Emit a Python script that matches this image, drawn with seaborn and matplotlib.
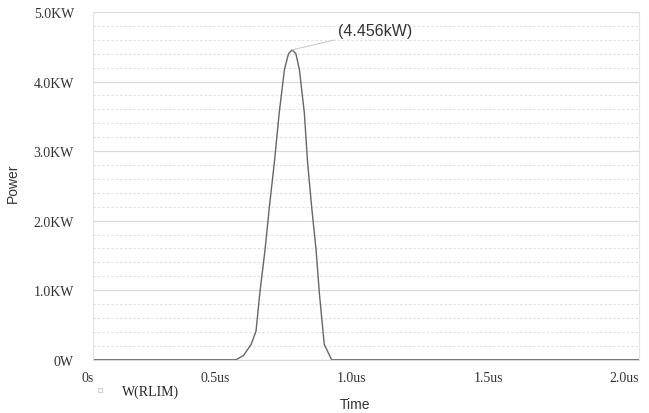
import matplotlib
matplotlib.use("Agg")
import matplotlib.pyplot as plt
import seaborn as sns
from matplotlib.lines import Line2D
from matplotlib.ticker import MultipleLocator

# Data (time in us, power in kW)
time_us = [0.0, 0.523, 0.55, 0.578, 0.596, 0.61, 0.629, 0.645, 0.663, 0.681, 0.70,
           0.715, 0.728, 0.742, 0.755, 0.773, 0.785, 0.80, 0.816, 0.828, 0.846, 0.873, 2.0]
power_kw = [0.0, 0.0, 0.06, 0.22, 0.41, 0.96, 1.58, 2.2, 2.83, 3.55, 4.17,
            4.40, 4.456, 4.40, 4.17, 3.55, 2.83, 2.19, 1.58, 0.96, 0.22, 0.0, 0.0]
x_ticks = [0.0, 0.5, 1.0, 1.5, 2.0]
x_labels = ['0s', '0.5us', '1.0us', '1.5us', '2.0us']
y_ticks = [0, 1, 2, 3, 4, 5]
y_labels = ['0W', '1.0KW', '2.0KW', '3.0KW', '4.0KW', '5.0KW']
peak_time = 0.728
peak_power = 4.456

sns.set_style("white")
plt.rcParams['font.family'] = ['Liberation Sans', 'DejaVu Sans']

grid_col = '#d9d9d9'
fig = plt.figure(figsize=(6.49, 4.14), dpi=100)
ax = fig.add_axes([0.1438, 0.1287, 0.985 - 0.1438, 0.9686 - 0.1287])

# gridlines: solid majors, dashed minors
ax.yaxis.set_minor_locator(MultipleLocator(0.2))
ax.grid(axis='y', which='major', color=grid_col, lw=0.9, ls='-')
ax.grid(axis='y', which='minor', color='#dedede', lw=0.8, ls=(0, (2, 2)))
ax.set_axisbelow(True)

sns.lineplot(x=time_us, y=power_kw, ax=ax, color='#666666', lw=1.0,
             estimator=None, legend=False)

ax.set_xlim(0, 2.0)
ax.set_ylim(0, 5.0)
ax.set_xticks(x_ticks)
ax.set_xticklabels(x_labels, family='Liberation Serif', fontsize=10, color='#333333', ha='right')
ax.set_yticks(y_ticks)
ax.set_yticklabels(y_labels, family='Liberation Serif', fontsize=10, color='#333333')
ax.tick_params(axis='y', which='major', length=6, color=grid_col, pad=8)
ax.tick_params(axis='y', which='minor', length=0)
ax.tick_params(axis='x', length=5, color=grid_col, pad=3)

for side in ['left', 'right']:
    ax.spines[side].set_color('#e3e3e3')
    ax.spines[side].set_linewidth(0.8)
ax.spines['top'].set_visible(False)
ax.spines['bottom'].set_color(grid_col)
ax.spines['bottom'].set_linewidth(0.9)

ax.set_xlabel('Time', fontsize=10, color='#333333')
ax.xaxis.set_label_coords(0.479, -0.108)
ax.set_ylabel('Power', fontsize=10, color='#333333')
ax.yaxis.set_label_coords(-0.135, 0.51)

# peak annotation
ax.annotate(f'({peak_power:.3f}kW)', xy=(peak_time, peak_power), xytext=(0.895, 4.73),
            fontsize=11.5, color='#333333', va='center', ha='left',
            arrowprops=dict(arrowstyle='-', color='#cccccc', lw=0.8, shrinkA=0, shrinkB=0))

# legend entry below the axis
handle = Line2D([], [], marker='s', ls='none', mfc='none', mec='#cfcfcf', ms=3.5, mew=0.8)
fig.legend([handle], ['W(RLIM)'], loc='center left', bbox_to_anchor=(0.132, 0.053),
           frameon=False, handletextpad=1.1, borderpad=0, handlelength=1.0,
           prop={'family': 'Liberation Serif', 'size': 10})

fig.savefig('out.png', dpi=100)
